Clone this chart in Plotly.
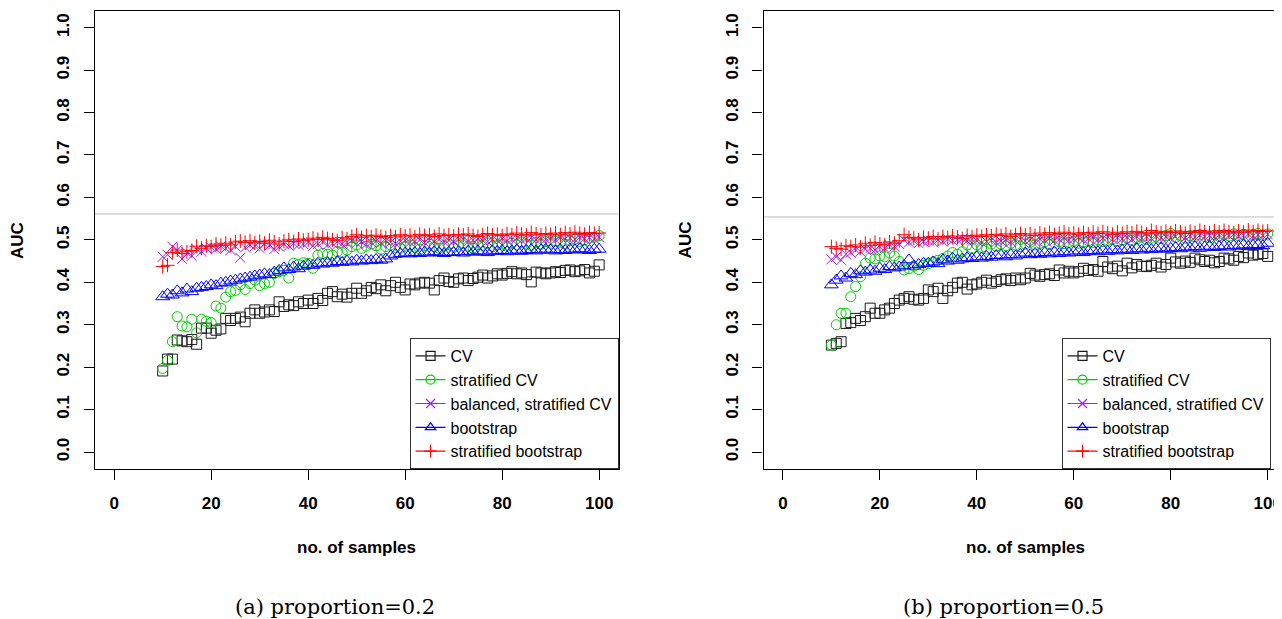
import plotly.graph_objects as go

# ---------------- data ----------------
n_samples = list(range(10, 101))

# panel (a) proportion = 0.2
cv_a = [0.191, 0.219, 0.219, 0.264, 0.262, 0.260, 0.265, 0.254, 0.292, 0.292,
        0.280, 0.287, 0.290, 0.315, 0.310, 0.315, 0.318, 0.307, 0.327, 0.335,
        0.327, 0.330, 0.335, 0.331, 0.354, 0.343, 0.347, 0.345, 0.354, 0.350,
        0.358, 0.350, 0.362, 0.357, 0.374, 0.378, 0.366, 0.372, 0.365, 0.374,
        0.386, 0.374, 0.380, 0.388, 0.385, 0.394, 0.380, 0.392, 0.400, 0.388,
        0.382, 0.396, 0.394, 0.398, 0.400, 0.398, 0.382, 0.404, 0.410, 0.402,
        0.400, 0.408, 0.410, 0.404, 0.409, 0.412, 0.417, 0.410, 0.415, 0.420,
        0.417, 0.421, 0.425, 0.420, 0.422, 0.418, 0.401, 0.424, 0.422, 0.420,
        0.422, 0.425, 0.423, 0.428, 0.429, 0.425, 0.427, 0.430, 0.422, 0.426,
        0.441]
strat_cv_a = [0.197, 0.216, 0.260, 0.319, 0.297, 0.295, 0.313, 0.281, 0.313, 0.308,
              0.305, 0.344, 0.339, 0.365, 0.378, 0.381, 0.394, 0.383, 0.397, 0.405,
              0.392, 0.397, 0.400, 0.421, 0.425, 0.428, 0.410, 0.445, 0.442, 0.446,
              0.445, 0.433, 0.464, 0.468, 0.466, 0.464, 0.472, 0.470, 0.476, 0.484,
              0.488, 0.480, 0.485, 0.490, 0.486, 0.478, 0.484, 0.488, 0.482, 0.480,
              0.485, 0.488, 0.482, 0.478, 0.487, 0.490, 0.484, 0.480, 0.486, 0.489,
              0.482, 0.488, 0.492, 0.485, 0.480, 0.489, 0.487, 0.493, 0.484, 0.488,
              0.490, 0.485, 0.492, 0.488, 0.495, 0.490, 0.487, 0.494, 0.490, 0.496,
              0.492, 0.497, 0.494, 0.490, 0.498, 0.502, 0.496, 0.500, 0.504, 0.506,
              0.510]
bal_cv_a = [0.460, 0.465, 0.484, 0.476, 0.455, 0.470, 0.462, 0.478, 0.472, 0.480,
            0.482, 0.478, 0.485, 0.480, 0.476, 0.485, 0.458, 0.482, 0.488, 0.485,
            0.480, 0.490, 0.486, 0.478, 0.484, 0.490, 0.486, 0.492, 0.488, 0.490,
            0.494, 0.486, 0.490, 0.495, 0.488, 0.492, 0.496, 0.490, 0.494, 0.498,
            0.492, 0.496, 0.490, 0.494, 0.497, 0.492, 0.498, 0.494, 0.491, 0.496,
            0.498, 0.494, 0.496, 0.500, 0.494, 0.498, 0.496, 0.501, 0.496, 0.499,
            0.496, 0.500, 0.502, 0.496, 0.499, 0.502, 0.498, 0.496, 0.501, 0.499,
            0.503, 0.498, 0.501, 0.504, 0.499, 0.502, 0.505, 0.500, 0.503, 0.501,
            0.504, 0.500, 0.506, 0.502, 0.504, 0.501, 0.506, 0.503, 0.505, 0.502,
            0.506]
boot_a = [0.366, 0.372, 0.370, 0.380, 0.375, 0.384, 0.378, 0.386, 0.388, 0.390,
          0.394, 0.392, 0.398, 0.400, 0.403, 0.405, 0.408, 0.410, 0.412, 0.415,
          0.417, 0.420, 0.418, 0.424, 0.428, 0.434, 0.430, 0.436, 0.432, 0.438,
          0.441, 0.440, 0.445, 0.443, 0.446, 0.445, 0.449, 0.447, 0.450, 0.448,
          0.452, 0.450, 0.453, 0.451, 0.454, 0.452, 0.455, 0.462, 0.466, 0.468,
          0.469, 0.467, 0.470, 0.468, 0.471, 0.469, 0.472, 0.470, 0.468, 0.471,
          0.470, 0.472, 0.469, 0.473, 0.471, 0.474, 0.472, 0.470, 0.474, 0.473,
          0.475, 0.472, 0.474, 0.476, 0.473, 0.475, 0.477, 0.474, 0.476, 0.478,
          0.476, 0.474, 0.477, 0.475, 0.478, 0.476, 0.479, 0.477, 0.475, 0.478,
          0.478]
strat_boot_a = [0.437, 0.440, 0.470, 0.476, 0.468, 0.472, 0.475, 0.485, 0.480, 0.486,
                0.484, 0.490, 0.487, 0.492, 0.488, 0.495, 0.497, 0.494, 0.498, 0.493,
                0.496, 0.492, 0.499, 0.495, 0.490, 0.497, 0.500, 0.496, 0.502, 0.499,
                0.500, 0.504, 0.501, 0.506, 0.503, 0.500, 0.498, 0.505, 0.502, 0.508,
                0.512, 0.506, 0.510, 0.507, 0.511, 0.508, 0.505, 0.510, 0.507, 0.512,
                0.509, 0.511, 0.507, 0.513, 0.510, 0.512, 0.508, 0.514, 0.510, 0.512,
                0.509, 0.513, 0.511, 0.514, 0.510, 0.508, 0.512, 0.515, 0.511, 0.513,
                0.510, 0.514, 0.512, 0.516, 0.513, 0.511, 0.517, 0.514, 0.512, 0.515,
                0.513, 0.516, 0.512, 0.517, 0.514, 0.518, 0.515, 0.513, 0.517, 0.515,
                0.516]
ref_auc_a = 0.561

# panel (b) proportion = 0.5
cv_b = [0.252, 0.256, 0.260, 0.303, 0.305, 0.315, 0.310, 0.319, 0.339, 0.327,
        0.327, 0.335, 0.339, 0.350, 0.358, 0.362, 0.366, 0.360, 0.358, 0.362,
        0.382, 0.378, 0.386, 0.362, 0.380, 0.388, 0.398, 0.400, 0.384, 0.394,
        0.396, 0.400, 0.405, 0.398, 0.402, 0.406, 0.408, 0.404, 0.410, 0.406,
        0.410, 0.421, 0.417, 0.414, 0.418, 0.420, 0.416, 0.429, 0.422, 0.426,
        0.422, 0.425, 0.433, 0.428, 0.430, 0.426, 0.449, 0.436, 0.432, 0.438,
        0.427, 0.445, 0.434, 0.442, 0.438, 0.437, 0.440, 0.445, 0.436, 0.442,
        0.457, 0.448, 0.445, 0.450, 0.447, 0.457, 0.453, 0.449, 0.452, 0.446,
        0.449, 0.457, 0.455, 0.452, 0.461, 0.458, 0.469, 0.464, 0.466, 0.468,
        0.461]
strat_cv_b = [0.252, 0.300, 0.327, 0.327, 0.366, 0.390, 0.413, 0.445, 0.457, 0.455,
              0.462, 0.460, 0.469, 0.462, 0.449, 0.429, 0.432, 0.438, 0.430, 0.440,
              0.444, 0.448, 0.452, 0.456, 0.462, 0.470, 0.466, 0.472, 0.488, 0.480,
              0.488, 0.482, 0.478, 0.490, 0.485, 0.490, 0.486, 0.492, 0.488, 0.484,
              0.490, 0.494, 0.488, 0.492, 0.495, 0.490, 0.493, 0.496, 0.491, 0.494,
              0.497, 0.492, 0.495, 0.498, 0.494, 0.500, 0.496, 0.499, 0.502, 0.497,
              0.500, 0.504, 0.499, 0.502, 0.506, 0.501, 0.504, 0.508, 0.503, 0.510,
              0.515, 0.506, 0.509, 0.504, 0.510, 0.507, 0.512, 0.508, 0.505, 0.511,
              0.508, 0.512, 0.509, 0.514, 0.510, 0.513, 0.508, 0.512, 0.515, 0.511,
              0.514]
bal_cv_b = [0.454, 0.460, 0.452, 0.466, 0.470, 0.476, 0.472, 0.478, 0.480, 0.476,
            0.484, 0.480, 0.488, 0.484, 0.490, 0.500, 0.494, 0.498, 0.492, 0.496,
            0.498, 0.494, 0.500, 0.496, 0.502, 0.498, 0.500, 0.503, 0.497, 0.501,
            0.498, 0.493, 0.496, 0.499, 0.494, 0.497, 0.500, 0.495, 0.498, 0.501,
            0.497, 0.500, 0.496, 0.502, 0.499, 0.503, 0.498, 0.501, 0.504, 0.499,
            0.502, 0.505, 0.500, 0.503, 0.506, 0.501, 0.504, 0.507, 0.502, 0.505,
            0.503, 0.506, 0.502, 0.508, 0.504, 0.507, 0.503, 0.509, 0.505, 0.507,
            0.504, 0.508, 0.510, 0.505, 0.509, 0.506, 0.511, 0.507, 0.510, 0.508,
            0.512, 0.507, 0.510, 0.513, 0.508, 0.511, 0.514, 0.509, 0.512, 0.510,
            0.513]
boot_b = [0.394, 0.405, 0.415, 0.410, 0.421, 0.418, 0.427, 0.424, 0.429, 0.426,
          0.433, 0.430, 0.437, 0.434, 0.436, 0.440, 0.453, 0.438, 0.442, 0.445,
          0.445, 0.448, 0.444, 0.453, 0.450, 0.457, 0.452, 0.455, 0.458, 0.456,
          0.460, 0.457, 0.461, 0.459, 0.463, 0.464, 0.460, 0.465, 0.462, 0.466,
          0.469, 0.465, 0.468, 0.466, 0.470, 0.467, 0.471, 0.468, 0.472, 0.469,
          0.471, 0.474, 0.470, 0.473, 0.475, 0.472, 0.476, 0.473, 0.477, 0.474,
          0.476, 0.478, 0.475, 0.479, 0.476, 0.480, 0.477, 0.479, 0.481, 0.478,
          0.480, 0.482, 0.479, 0.483, 0.481, 0.484, 0.480, 0.483, 0.485, 0.482,
          0.484, 0.486, 0.483, 0.487, 0.485, 0.488, 0.484, 0.487, 0.489, 0.486,
          0.492]
strat_boot_b = [0.484, 0.480, 0.478, 0.486, 0.484, 0.488, 0.483, 0.492, 0.487, 0.494,
                0.490, 0.488, 0.495, 0.492, 0.498, 0.512, 0.506, 0.504, 0.500, 0.506,
                0.504, 0.508, 0.502, 0.508, 0.505, 0.509, 0.506, 0.503, 0.510, 0.507,
                0.511, 0.508, 0.512, 0.509, 0.513, 0.510, 0.514, 0.508, 0.512, 0.515,
                0.511, 0.514, 0.510, 0.516, 0.513, 0.517, 0.512, 0.515, 0.518, 0.514,
                0.516, 0.513, 0.517, 0.514, 0.518, 0.515, 0.519, 0.516, 0.513, 0.518,
                0.515, 0.519, 0.516, 0.520, 0.517, 0.514, 0.522, 0.518, 0.516, 0.520,
                0.517, 0.521, 0.518, 0.515, 0.520, 0.517, 0.522, 0.519, 0.516, 0.521,
                0.518, 0.522, 0.519, 0.516, 0.521, 0.518, 0.523, 0.519, 0.522, 0.520,
                0.521]
ref_auc_b = 0.554

series_names = ["CV", "stratified CV", "balanced, stratified CV", "bootstrap",
                "stratified bootstrap"]
series_colors = ["#1a1a1a", "#00CD00", "#A020F0", "#0000FF", "#FF0000"]
series_symbols = ["square-open", "circle-open", "x-thin-open", "triangle-up-open",
                  "cross-thin-open"]
series_sizes = [10, 10, 10, 12, 10]

x_ticks = [0, 20, 40, 60, 80, 100]
y_ticks = [0.0, 0.1, 0.2, 0.3, 0.4, 0.5, 0.6, 0.7, 0.8, 0.9, 1.0]
y_ticktext = ["0.0", "0.1", "0.2", "0.3", "0.4", "0.5", "0.6", "0.7", "0.8", "0.9", "1.0"]
captions = ["(a) proportion=0.2", "(b) proportion=0.5"]

panels = [
    dict(data=[cv_a, strat_cv_a, bal_cv_a, boot_a, strat_boot_a], ref=ref_auc_a,
         xa="x", ya="y", legend="legend"),
    dict(data=[cv_b, strat_cv_b, bal_cv_b, boot_b, strat_boot_b], ref=ref_auc_b,
         xa="x2", ya="y2", legend="legend2"),
]

# The page body has an 8px default margin; the figure is sized to fill the
# rest of the 1282x619 window and positions are given in window pixels.
OFF = 8
W, H = 1282 - OFF, 619 - OFF


def px(xw):
    return (xw - OFF) / W


def py(yw):
    return (H - (yw - OFF)) / H


FONT = "Liberation Sans, Arial, Helvetica, sans-serif"

fig = go.Figure()

for p in panels:
    for name, vals, col, sym, sz in zip(series_names, p["data"], series_colors,
                                        series_symbols, series_sizes):
        fig.add_trace(go.Scatter(
            x=n_samples, y=vals, mode="markers", xaxis=p["xa"], yaxis=p["ya"],
            marker=dict(symbol=sym, size=sz, color=col, line=dict(width=1, color=col)),
            showlegend=False, hoverinfo="skip"))
    # legend-only entries (line + symbol, as in the R legend)
    for name, col, sym in zip(series_names, series_colors, series_symbols):
        fig.add_trace(go.Scatter(
            x=[None], y=[None], mode="lines+markers", name=name,
            xaxis=p["xa"], yaxis=p["ya"], legend=p["legend"],
            line=dict(color=col, width=1.2),
            marker=dict(symbol=sym, size=9, color=col, line=dict(width=1.2, color=col))))
    fig.add_shape(type="line", xref=p["xa"] + " domain", yref=p["ya"],
                  x0=0, x1=1, y0=p["ref"], y1=p["ref"],
                  line=dict(color="#BDBDBD", width=1), layer="below")

ydom = [py(469), py(10.7)]
axis_common = dict(showgrid=False, zeroline=False, showline=True, linecolor="black",
                   linewidth=1.3, ticks="outside", ticklen=10, tickwidth=1.3,
                   tickcolor="black", ticklabeloverflow="allow",
                   tickfont=dict(family=FONT, size=17, color="black", weight="bold"))

legend_common = dict(bgcolor="white", bordercolor="#333333", borderwidth=1,
                     font=dict(family=FONT, size=16, color="black"),
                     itemwidth=30, tracegroupgap=0)

fig.update_layout(
    width=W, height=H, margin=dict(l=0, r=0, t=0, b=0),
    paper_bgcolor="white", plot_bgcolor="white",
    xaxis=dict(domain=[px(95), px(620)], range=[-4, 104], tickvals=x_ticks,
               mirror=True, ticklabelstandoff=8, anchor="y", **axis_common),
    yaxis=dict(domain=ydom, range=[-0.04, 1.04], tickvals=y_ticks, ticktext=y_ticktext,
               tickangle=-90, mirror=True, ticklabelstandoff=8, anchor="x", **axis_common),
    xaxis2=dict(domain=[px(765.3), 1.0], range=[-4, 102.33], tickvals=x_ticks,
                mirror=True, ticklabelstandoff=8, anchor="y2", **axis_common),
    yaxis2=dict(domain=ydom, range=[-0.04, 1.04], tickvals=y_ticks, ticktext=y_ticktext,
                tickangle=-90, mirror=False, ticklabelstandoff=8, anchor="x2", **axis_common),
    legend=dict(x=px(620), y=py(469), xanchor="right", yanchor="bottom", **legend_common),
    legend2=dict(x=px(1064), y=py(469), xanchor="left", yanchor="bottom", **legend_common),
    showlegend=True,
)

annots = []
for xc_title, xc_auc, xc_cap, cap in [(357, 18, 335.5, captions[0]),
                                       (1028, 688, 1006, captions[1])]:
    annots.append(dict(text="no. of samples", x=px(xc_title), y=py(547),
                       xref="paper", yref="paper", showarrow=False,
                       xanchor="center", yanchor="middle",
                       font=dict(family=FONT, size=17, color="black", weight="bold")))
    annots.append(dict(text="AUC", x=px(xc_auc), y=py(240), textangle=-90,
                       xref="paper", yref="paper", showarrow=False,
                       xanchor="center", yanchor="middle",
                       font=dict(family=FONT, size=17, color="black", weight="bold")))
    annots.append(dict(text=cap, x=px(xc_cap), y=py(607),
                       xref="paper", yref="paper", showarrow=False,
                       xanchor="center", yanchor="middle",
                       font=dict(family="DejaVu Serif, serif", size=21, color="black")))
fig.update_layout(annotations=annots)

fig.write_html("out.html")
